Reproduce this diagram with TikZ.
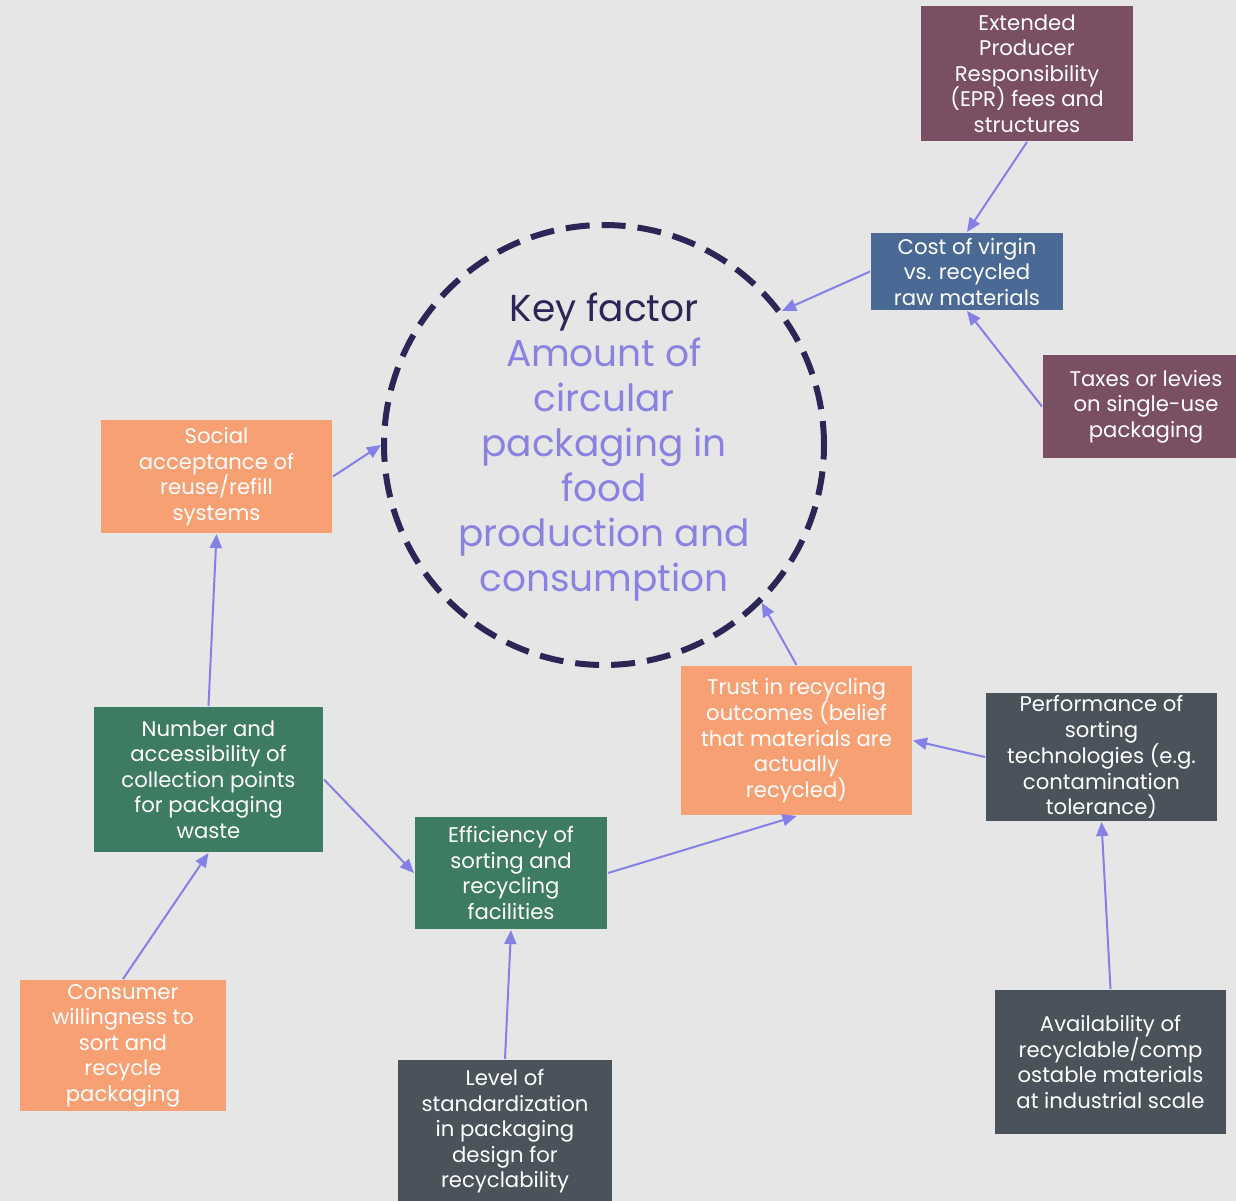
\documentclass[tikz,border=0pt]{standalone}
\usepackage{fontspec}
\setmainfont{Poppins}
\usepackage{xcolor}
\usepackage{tikz}
\usetikzlibrary{arrows.meta,shapes.geometric}
\definecolor{bgc}{HTML}{E6E6E6}
\definecolor{mauve}{HTML}{7A4E63}
\definecolor{slate}{HTML}{4A6A95}
\definecolor{peach}{HTML}{F7A073}
\definecolor{pine}{HTML}{3E7B63}
\definecolor{charcoal}{HTML}{4A535B}
\definecolor{linkc}{HTML}{8580E6}
\definecolor{ringc}{HTML}{2B2656}
\definecolor{factorc}{HTML}{8A82E0}

\begin{document}
\begin{tikzpicture}[x=1pt,y=-1pt,->,>={Triangle[length=14pt,width=12pt]},line width=2pt]
	\tikzstyle{box}=[rectangle,draw=none,text=white,align=center,inner sep=0pt,font=\fontsize{21.2}{25.5}\selectfont]
	\tikzstyle{every edge}=[draw=linkc,line width=2pt]
	\fill[bgc] (0,0) rectangle (1236,1201);
	\useasboundingbox (0,0) rectangle (1236,1201);
	% central factor
	\node[circle,draw=ringc,line width=6pt,dash pattern=on 24pt off 12pt,minimum size=440pt] (key) at (604,445) {};
	\node[align=center,text=factorc,font=\fontsize{37.5}{45}\selectfont] (keytext) at (604,447)
		{{\color{ringc}Key factor}\\Amount of\\circular\\packaging in\\food\\production and\\consumption};
	% boxes
	\node[box,fill=mauve,minimum width=212pt,minimum height=135pt]    (epr)   at (1027,73.5)   {Extended\\Producer\\Responsibility\\(EPR) fees and\\structures};
	\node[box,fill=slate,minimum width=192pt,minimum height=77pt]     (cost)  at (967,271.5)   {Cost of virgin\\vs. recycled\\raw materials};
	\node[box,fill=mauve,minimum width=206pt,minimum height=103pt]    (tax)   at (1146,406.5)  {Taxes or levies\\on single-use\\packaging};
	\node[box,fill=peach,minimum width=231pt,minimum height=113pt]    (social) at (216.5,476.5) {Social\\acceptance of\\reuse/refill\\systems};
	\node[box,fill=peach,minimum width=231pt,minimum height=149pt]    (trust) at (796.5,740.5)  {Trust in recycling\\outcomes (belief\\that materials are\\actually\\recycled)};
	\node[box,fill=charcoal,minimum width=231pt,minimum height=128pt] (perf)  at (1101.5,757)   {Performance of\\sorting\\technologies (e.g.\\contamination\\tolerance)};
	\node[box,fill=pine,minimum width=229pt,minimum height=145pt]     (points) at (208.5,779.5) {Number and\\accessibility of\\collection points\\for packaging\\waste};
	\node[box,fill=pine,minimum width=192pt,minimum height=112pt]     (sorting) at (511,873)   {Efficiency of\\sorting and\\recycling\\facilities};
	\node[box,fill=peach,minimum width=206pt,minimum height=131pt]    (consumer) at (123,1045.5) {Consumer\\willingness to\\sort and\\recycle\\packaging};
	\node[box,fill=charcoal,minimum width=214pt,minimum height=143pt] (std)   at (505,1131.5)  {Level of\\standardization\\in packaging\\design for\\recyclability};
	\node[box,fill=charcoal,minimum width=231pt,minimum height=144pt] (avail) at (1110.5,1062)  {Availability of\\recyclable/comp\\ostable materials\\at industrial scale};
	% links
	\path (epr.south)      edge (cost.north);
	\path (cost.west)      edge (key.37);
	\path (tax.west)       edge (cost.south);
	\path (social.east)    edge (key.180);
	\path (trust.north)    edge (key.-45);
	\path (perf.west)      edge (trust.east);
	\path (points.north)   edge (social.south);
	\path (points.east)    edge (sorting.west);
	\path (sorting.east)   edge (trust.south);
	\path (consumer.north) edge (points.south);
	\path (std.north)      edge (sorting.south);
	\path (avail.north)    edge (perf.south);
\end{tikzpicture}
\end{document}
